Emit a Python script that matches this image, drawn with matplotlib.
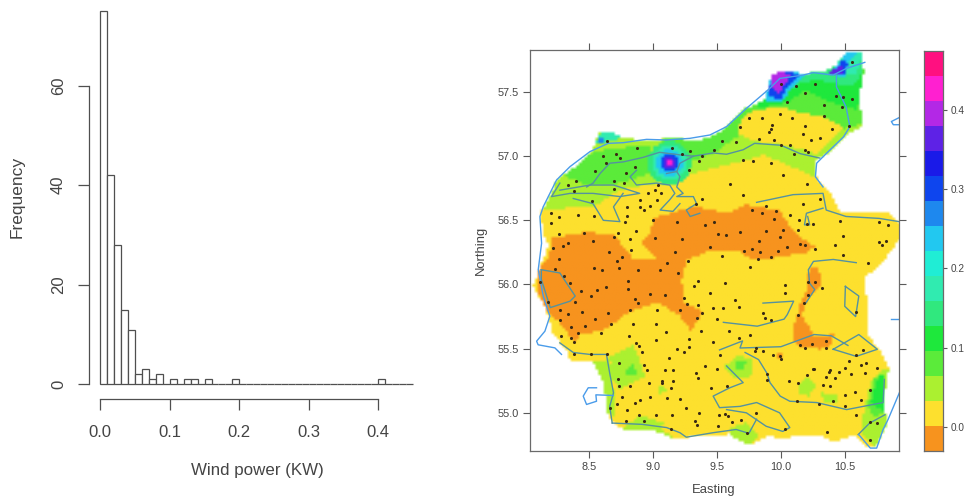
import numpy as np
import matplotlib
matplotlib.use("Agg")
import matplotlib.pyplot as plt
from matplotlib.colors import ListedColormap, BoundaryNorm
from matplotlib.path import Path

plt.rcParams['font.family'] = ['Liberation Sans', 'DejaVu Sans']

# ---------- histogram data ----------
bin_width = 0.01
hist_counts = [75, 42, 28, 15, 11, 2, 3, 1, 2, 0, 1, 0, 1, 1, 0, 1, 0, 0, 0, 1,
               0, 0, 0, 0, 0, 0, 0, 0, 0, 0, 0, 0, 0, 0, 0, 0, 0, 0, 0, 0,
               1, 0, 0, 0, 0]
hist_xticks = [0.0, 0.1, 0.2, 0.3, 0.4]
hist_yticks = [0, 20, 40, 60]

# ---------- colour scale ----------
level_floor = -0.031
level_step = 0.0316
level_colors = ['#F7931E', '#FDE02E', '#ABF030', '#5BEB3A', '#1EE83C', '#30E87E',
                '#30EBB0', '#20EDD5', '#22C8F0', '#1E88EE', '#0E45EE', '#1A1AE8',
                '#5E22E6', '#B328E6', '#FF20D0', '#FF1080']

# ---------- map field: outline and regions (lon, lat), level index ----------
field_outline = [
    (10.516, 57.814), (10.633, 57.80), (10.645, 57.645), (10.62, 57.515), (10.62, 57.36),
    (10.633, 57.23), (10.49, 57.15), (10.36, 57.02), (10.27, 56.97), (10.27, 56.84),
    (10.33, 56.76), (10.38, 56.71), (10.46, 56.555), (10.72, 56.57), (10.85, 56.555),
    (10.925, 56.48), (10.925, 56.35), (10.81, 56.195), (10.645, 56.04), (10.67, 55.86),
    (10.67, 55.62), (10.775, 55.47), (10.84, 55.34), (10.81, 55.155), (10.80, 55.03),
    (10.835, 54.92), (10.745, 54.74), (10.67, 54.73), (10.565, 54.82), (10.41, 54.77),
    (10.305, 54.82), (10.15, 54.83), (10.0, 54.79), (9.9, 54.82), (9.75, 54.745),
    (9.59, 54.83), (9.335, 54.82), (9.16, 54.79), (9.02, 54.855), (8.76, 54.87),
    (8.68, 54.92), (8.63, 55.025), (8.615, 55.21), (8.525, 55.39), (8.35, 55.40),
    (8.32, 55.49), (8.215, 55.61), (8.16, 55.805), (8.055, 55.985), (8.11, 56.115),
    (8.18, 56.32), (8.14, 56.37), (8.115, 56.555), (8.205, 56.71), (8.245, 56.815),
    (8.43, 56.945), (8.53, 57.05), (8.57, 57.18), (8.67, 57.19), (8.76, 57.14),
    (8.995, 57.11), (9.14, 57.15), (9.34, 57.11), (9.52, 57.18), (9.70, 57.36),
    (9.875, 57.44), (9.92, 57.63), (10.02, 57.66), (10.19, 57.64), (10.37, 57.67),
    (10.42, 57.70), (10.47, 57.76)]

north_light = [(8.09, 56.58), (8.53, 56.605), (8.74, 56.735), (9.03, 56.79), (9.18, 56.815),
               (9.315, 56.865), (9.68, 56.955), (9.86, 57.01), (10.07, 56.92), (10.265, 56.83),
               (10.51, 56.945), (10.825, 57.255), (10.825, 57.88), (8.43, 57.88), (7.9, 56.945)]
north_green_west = [(8.53, 57.035), (8.95, 57.085), (9.105, 56.89), (8.895, 56.84),
                    (8.66, 56.765), (8.505, 56.765), (8.295, 56.84)]
north_green_east = [(9.18, 56.92), (9.47, 57.02), (9.655, 57.15), (9.73, 57.335), (9.99, 57.385),
                    (10.125, 57.345), (10.355, 57.295), (10.49, 57.215), (10.65, 57.255),
                    (10.65, 57.83), (9.86, 57.72), (9.68, 57.385), (9.47, 57.18), (9.05, 57.125)]
north_yellow = [(9.73, 57.335), (9.835, 57.36), (9.99, 57.385), (10.125, 57.345), (10.355, 57.295),
                (10.49, 57.215), (10.41, 57.15), (10.28, 57.01), (10.07, 57.075), (9.89, 57.10),
                (9.76, 57.125), (9.655, 57.18), (9.655, 57.23)]
north_bright = [(9.82, 57.37), (10.07, 57.425), (10.175, 57.515), (10.36, 57.425), (10.59, 57.36),
                (10.63, 57.515), (10.65, 57.83), (9.86, 57.72)]
north_spring = [(9.885, 57.45), (10.04, 57.49), (10.15, 57.57), (10.28, 57.59), (10.54, 57.54),
                (10.62, 57.62), (10.65, 57.83), (9.89, 57.72)]
skaw_aqua = [(10.41, 57.645), (10.59, 57.645), (10.65, 57.83), (10.49, 57.83)]
nw_aqua = [(8.545, 57.085), (8.595, 57.19), (8.69, 57.19), (8.755, 57.14), (8.69, 57.125)]
nw_blue = [(8.555, 57.10), (8.58, 57.155), (8.62, 57.145), (8.595, 57.10)]
hanst_cyan = [(9.875, 57.43), (10.0, 57.42), (10.09, 57.54), (10.2, 57.64), (9.92, 57.67)]
hanst_blue = [(9.90, 57.47), (9.99, 57.44), (10.06, 57.55), (10.16, 57.64), (9.93, 57.66)]
hanst_purple = [(9.92, 57.53), (9.985, 57.49), (10.07, 57.63), (10.0, 57.66), (9.93, 57.63)]
skaw_cyan = [(10.37, 57.645), (10.49, 57.61), (10.525, 57.725), (10.59, 57.80), (10.515, 57.815),
             (10.45, 57.725)]
skaw_blue = [(10.46, 57.63), (10.50, 57.63), (10.52, 57.73), (10.47, 57.74)]
skaw_indigo = [(10.375, 57.645), (10.47, 57.625), (10.49, 57.71), (10.44, 57.70)]
orange_west = [(8.205, 56.36), (8.48, 56.405), (8.69, 56.385), (8.765, 56.295), (8.84, 56.195),
               (9.26, 56.195), (9.22, 56.04), (9.235, 55.86), (9.39, 55.78), (9.29, 55.64),
               (9.21, 55.75), (9.03, 55.86), (8.82, 55.79), (8.61, 55.64), (8.43, 55.61),
               (8.375, 55.545), (8.27, 55.70), (8.14, 55.805), (8.09, 55.96), (8.10, 56.115),
               (8.18, 56.195)]
orange_centre = [(8.975, 56.40), (8.91, 56.32), (9.03, 56.19), (9.26, 56.19), (9.42, 56.25),
                 (9.68, 56.25), (9.77, 56.19), (9.86, 56.19), (9.99, 56.215), (10.20, 56.25),
                 (10.265, 56.295), (10.15, 56.36), (10.07, 56.45), (9.99, 56.57), (9.73, 56.62),
                 (9.575, 56.555), (9.315, 56.605), (9.0, 56.515)]
orange_east = [(10.215, 56.115), (10.29, 56.14), (10.315, 55.985), (10.2, 55.88), (10.16, 55.75),
               (10.215, 55.675), (10.265, 55.585), (10.41, 55.61), (10.385, 55.52), (10.305, 55.495),
               (10.15, 55.505), (10.085, 55.57), (10.11, 55.725), (10.16, 55.88), (10.2, 55.96)]
orange_spot = [(9.975, 55.43), (10.015, 55.43), (10.015, 55.46), (9.975, 55.46)]
sw_patch = [(8.66, 55.44), (8.845, 55.53), (8.935, 55.285), (8.74, 55.18), (8.675, 55.26)]
sw_patch_core = [(8.79, 55.34), (8.845, 55.39), (8.87, 55.285), (8.79, 55.285)]
w_coast_patch = [(8.505, 55.39), (8.66, 55.415), (8.69, 55.155), (8.69, 54.975), (8.585, 55.025),
                 (8.585, 55.21)]
south_patch = [(8.74, 54.87), (8.9, 54.975), (9.08, 54.92), (9.05, 54.87), (9.185, 54.79),
               (8.9, 54.845)]
south_patch_two = [(9.59, 54.87), (9.72, 54.92), (9.82, 54.82), (9.75, 54.745), (9.59, 54.82)]
central_patch = [(9.55, 55.36), (9.66, 55.44), (9.775, 55.415), (9.775, 55.285), (9.63, 55.26)]
central_core = [(9.65, 55.39), (9.72, 55.39), (9.71, 55.345), (9.65, 55.345)]
east_patch = [(10.125, 55.21), (10.2, 55.27), (10.28, 55.21), (10.215, 55.13), (10.14, 55.145)]
small_patch = [(9.03, 55.21), (9.09, 55.20), (9.10, 55.155), (9.05, 55.15)]
east_patch_two = [(10.31, 55.155), (10.44, 55.13), (10.44, 55.08), (10.335, 55.08)]
se_light = [(10.62, 54.845), (10.65, 55.05), (10.7, 55.235), (10.8, 55.34), (10.84, 55.34),
            (10.85, 54.92), (10.74, 54.72)]
se_green = [(10.675, 55.05), (10.725, 55.26), (10.81, 55.31), (10.81, 55.0), (10.725, 54.97)]
se_bright = [(10.70, 55.08), (10.76, 55.29), (10.81, 55.29), (10.81, 55.01), (10.735, 55.05)]

region_layers = [
    (2, north_light), (3, north_green_west), (3, north_green_east), (1, north_yellow),
    (4, north_bright), (5, north_spring), (6, skaw_aqua), (6, nw_aqua), (9, nw_blue),
    (8, hanst_cyan), (10, hanst_blue), (13, hanst_purple), (8, skaw_cyan), (10, skaw_blue),
    (12, skaw_indigo),
    (0, orange_west), (0, orange_centre), (0, orange_east), (0, orange_spot),
    (2, sw_patch), (3, sw_patch_core), (2, w_coast_patch), (2, south_patch), (2, south_patch_two),
    (2, central_patch), (3, central_core), (2, east_patch), (2, small_patch), (2, east_patch_two),
    (2, se_light), (3, se_green), (4, se_bright),
]
# concentric hot spot near 9.12E, 56.95N: (level index, radius in degrees)
hotspot_centre = (9.125, 56.945)
hotspot_rings = [(5, 0.17), (6, 0.135), (8, 0.104), (10, 0.073), (12, 0.047), (14, 0.02)]

# ---------- monitoring sites ----------
site_lon = [10.56, 10.27, 10.12, 10.0, 10.19, 10.43, 10.49, 10.56, 10.05, 10.34, 10.48, 9.99, 9.75, 9.85, 10.09,
            10.34, 9.68, 9.93, 9.925, 9.91, 10.19, 10.53, 10.40, 10.17, 9.825, 9.95, 10.235, 10.31, 9.54, 9.65,
            10.0, 10.07, 10.19, 10.21, 10.1, 8.64, 8.875, 9.15, 9.48, 9.23, 9.29, 9.385, 9.36, 9.70, 9.78,
            9.92, 9.28, 10.02, 8.605, 8.71, 8.74, 8.63, 8.86, 8.545, 8.785, 8.395, 8.69, 8.77, 8.335, 9.04,
            9.6, 10.205, 8.69, 8.38, 9.015, 8.96, 9.065, 9.70, 8.525, 8.895, 9.03, 9.385, 10.31, 8.795, 8.90,
            8.975, 8.93, 9.335, 9.88, 10.17, 8.2, 8.265, 8.41, 8.535, 8.795, 9.775, 9.85, 9.965, 10.07, 8.2,
            8.78, 9.0, 9.19, 9.41, 9.48, 9.95, 10.14, 10.205, 10.25, 10.465, 10.77, 10.84, 8.26, 8.46, 8.725,
            8.865, 10.135, 9.68, 9.51, 9.57, 9.88, 10.02, 8.695, 8.53, 9.015, 9.23, 9.83, 9.99, 8.82, 10.49,
            10.765, 10.82, 10.79, 8.335, 8.295, 8.22, 10.15, 10.19, 10.42, 10.27, 9.445, 10.045, 9.775, 9.71, 9.835,
            9.975, 8.655, 8.83, 9.17, 8.755, 9.54, 9.92, 10.49, 9.82, 8.26, 10.68,
            8.23, 8.535, 8.60, 8.735, 8.885, 9.05, 9.11, 9.195, 9.275, 8.715, 9.76, 8.30, 8.115, 8.35, 8.80,
            8.80, 8.63, 8.56, 8.51, 8.435, 9.355, 9.32, 9.56, 10.035, 10.035, 10.215, 10.265, 10.325, 10.21, 9.445,
            8.975, 9.09, 9.245, 8.86, 8.88, 9.64, 8.18, 8.385, 10.18, 9.265, 9.355, 9.47, 9.55, 9.67, 8.27,
            8.82, 9.03, 9.21, 8.335, 8.44, 8.65, 9.38, 9.86, 10.135, 10.585, 9.875, 9.92, 9.345, 9.50, 8.545,
            8.27, 8.845, 9.02, 8.67, 8.355, 8.465, 9.375, 9.595, 9.10, 8.415, 8.59, 8.81, 9.76, 8.28, 8.355,
            8.38, 9.02, 9.28, 9.67, 9.47, 8.865, 8.89, 10.355, 10.24, 10.15, 10.19, 10.35, 9.19, 9.28, 9.24,
            8.91, 8.38, 8.51, 8.64, 9.525, 9.805, 9.80, 9.86, 9.94, 9.99, 10.0, 10.645, 10.59, 9.125, 8.73,
            10.53, 10.67, 10.63, 8.93, 9.41, 10.50, 10.75, 10.26, 10.255, 10.455, 10.385, 10.375, 8.955, 9.09, 9.155,
            9.50, 9.335, 9.35, 10.205, 10.55, 10.655, 10.355, 10.425, 9.89, 9.89, 8.725, 9.155, 9.07, 9.07, 8.97,
            10.065, 10.135, 8.73, 8.82, 10.33, 10.385, 9.14, 9.455, 9.58, 10.70, 10.58, 8.76, 8.975, 9.11, 9.21,
            10.50, 10.41, 10.625, 8.895, 8.855, 8.715, 10.13, 10.30, 8.665, 9.255, 10.50, 8.795, 9.36, 8.89, 9.02,
            9.15, 9.515, 9.565, 9.585, 9.805, 10.585, 9.33, 8.785, 8.93, 9.345, 9.69, 9.615, 9.505, 10.695, 10.755,
            9.14, 10.03, 10.36, 9.735, 10.695]
site_lat = [57.73, 57.56, 57.55, 57.56, 57.49, 57.47, 57.46, 57.445, 57.425, 57.40, 57.38, 57.33, 57.30, 57.30, 57.295,
            57.31, 57.23, 57.24, 57.215, 57.185, 57.235, 57.235, 57.21, 57.17, 57.135, 57.125, 57.125, 57.14, 57.12, 57.11,
            57.09, 57.085, 57.05, 57.035, 57.02, 57.115, 57.06, 57.06, 57.05, 57.015, 57.04, 57.0, 56.96, 56.97, 56.965,
            56.945, 56.89, 56.85, 57.0, 57.02, 56.985, 56.945, 56.915, 56.885, 56.865, 56.81, 56.81, 56.79, 56.775, 56.775,
            56.78, 56.78, 56.745, 56.725, 56.74, 56.71, 56.71, 56.70, 56.65, 56.66, 56.655, 56.665, 56.665, 56.605, 56.60,
            56.615, 56.58, 56.63, 56.61, 56.625, 56.555, 56.525, 56.545, 56.53, 56.53, 56.58, 56.56, 56.57, 56.54, 56.48,
            56.485, 56.5, 56.49, 56.465, 56.485, 56.51, 56.5, 56.47, 56.47, 56.495, 56.485, 56.465, 56.39, 56.40, 56.405,
            56.42, 56.425, 56.41, 56.39, 56.385, 56.42, 56.425, 56.37, 56.34, 56.365, 56.355, 56.34, 56.37, 56.355, 56.375,
            56.33, 56.34, 56.305, 56.32, 56.30, 56.285, 56.315, 56.305, 56.31, 56.275, 56.295, 56.29, 56.275, 56.26, 56.25,
            56.26, 56.255, 56.27, 56.25, 56.215, 56.225, 56.215, 56.23, 56.20, 56.195, 56.17,
            56.12, 56.13, 56.11, 56.125, 56.11, 56.11, 56.165, 56.09, 56.18, 56.185, 56.14, 56.07, 56.02, 56.01, 56.025,
            55.965, 55.98, 55.955, 55.91, 55.95, 56.025, 55.99, 56.01, 55.995, 55.935, 56.02, 56.02, 55.97, 55.915, 55.93,
            55.925, 55.92, 55.895, 55.89, 55.855, 55.88, 55.865, 55.865, 55.855, 55.845, 55.84, 55.82, 55.815, 55.825, 55.805,
            55.80, 55.80, 55.80, 55.77, 55.785, 55.78, 55.78, 55.775, 55.76, 55.785, 55.735, 55.725, 55.735, 55.73, 55.73,
            55.72, 55.695, 55.695, 55.69, 55.67, 55.675, 55.64, 55.64, 55.63, 55.625, 55.625, 55.60, 55.61, 55.60, 55.585,
            55.555, 55.57, 55.575, 55.58, 55.55, 55.545, 55.52, 55.56, 55.54, 55.525, 55.505, 55.505, 55.50, 55.51, 55.47,
            55.475, 55.46, 55.455, 55.455, 55.45, 55.505, 55.48, 55.48, 55.45, 55.445, 55.42, 55.49, 55.45, 55.43, 55.39,
            55.40, 55.39, 55.37, 55.375, 55.365, 55.35, 55.35, 55.345, 55.34, 55.32, 55.335, 55.315, 55.335, 55.335, 55.335,
            55.345, 55.31, 55.275, 55.295, 55.30, 55.31, 55.28, 55.275, 55.30, 55.255, 55.265, 55.25, 55.245, 55.235, 55.235,
            55.245, 55.23, 55.21, 55.21, 55.215, 55.21, 55.195, 55.19, 55.205, 55.18, 55.165, 55.125, 55.125, 55.115, 55.105,
            55.135, 55.095, 55.10, 55.10, 55.075, 55.065, 55.095, 55.07, 55.04, 55.035, 55.05, 55.02, 54.995, 54.98, 54.98,
            54.98, 54.985, 54.99, 54.975, 55.0, 54.98, 54.94, 54.94, 54.94, 54.905, 54.945, 54.93, 54.895, 54.93, 54.92,
            54.875, 54.875, 54.85, 54.84, 54.79]

# ---------- coastlines and inland water ----------
coast_main = [(10.657, 57.731), (10.513, 57.684), (10.409, 57.632), (10.253, 57.651), (10.175, 57.632),
              (9.992, 57.606), (9.914, 57.529), (9.731, 57.373), (9.575, 57.23), (9.444, 57.165),
              (9.288, 57.139), (9.105, 57.126), (8.949, 57.131), (8.766, 57.105), (8.649, 57.1),
              (8.505, 57.035), (8.349, 56.918), (8.244, 56.814), (8.14, 56.606), (8.114, 56.529),
              (8.127, 56.321), (8.101, 56.117), (8.14, 55.909), (8.192, 55.753), (8.153, 55.636),
              (8.088, 55.558), (8.10, 55.53), (8.231, 55.506), (8.283, 55.455)]
coast_ne = [(10.435, 57.63), (10.435, 57.54), (10.51, 57.385), (10.54, 57.23), (10.49, 57.15),
            (10.355, 57.02), (10.28, 56.945), (10.27, 56.84), (10.33, 56.76)]
coast_island = [(8.557, 55.195), (8.492, 55.195), (8.453, 55.13), (8.479, 55.065), (8.557, 55.09),
                (8.552, 55.14), (8.688, 55.135)]
coast_se = [(10.61, 54.83), (10.70, 54.725), (10.75, 54.725), (10.80, 54.87), (10.84, 54.95),
            (10.927, 55.155)]
coast_islet_n = [(10.925, 57.30), (10.865, 57.27), (10.88, 57.245), (10.925, 57.245)]
coast_islet_e = [(10.865, 55.73), (10.925, 55.73)]
coast_lines = [coast_main, coast_ne, coast_island, coast_se, coast_islet_n, coast_islet_e]

fjord_main = [(10.305, 56.985), (10.15, 57.02), (10.0, 57.085), (9.795, 57.10), (9.705, 57.05), (9.575, 57.015),
              (9.47, 57.025), (9.315, 57.0), (9.21, 56.945), (9.185, 56.88), (9.105, 56.865)]
fjord_west = [(9.315, 57.0), (9.21, 57.01), (9.05, 57.03), (8.92, 56.99), (8.765, 56.955), (8.66, 56.945),
              (8.585, 56.865), (8.53, 56.79), (8.48, 56.76)]
fjord_south = [(9.185, 56.88), (9.21, 56.84), (9.185, 56.76), (9.235, 56.71), (9.185, 56.685), (9.315, 56.685),
               (9.34, 56.63), (9.26, 56.58), (9.29, 56.53), (9.365, 56.555)]
fjord_mid = [(8.87, 56.89), (8.82, 56.84), (8.87, 56.775), (9.025, 56.79), (9.13, 56.775), (9.17, 56.71),
             (9.13, 56.66), (9.055, 56.58), (9.155, 56.57), (9.21, 56.63)]
fjord_loop = [(8.27, 56.735), (8.505, 56.775), (8.69, 56.775), (8.895, 56.71), (8.74, 56.685), (8.53, 56.71),
              (8.35, 56.71), (8.205, 56.685), (8.27, 56.79)]
fjord_low = [(8.375, 56.67), (8.53, 56.63), (8.61, 56.50), (8.74, 56.49), (8.69, 56.605), (8.765, 56.71)]
mariager = [(9.81, 56.64), (10.095, 56.70), (10.33, 56.71), (10.355, 56.58), (10.51, 56.53), (10.77, 56.515),
            (10.925, 56.49)]
mariager_arm = [(10.33, 56.595), (10.2, 56.555), (10.185, 56.465), (10.225, 56.465), (10.21, 56.53)]
ringkobing = [(8.125, 56.115), (8.27, 56.09), (8.39, 55.91), (8.35, 55.87), (8.195, 55.82), (8.125, 56.04),
              (8.125, 56.115)]
vejle = [(9.86, 55.855), (10.1, 55.87), (10.05, 55.765), (10.025, 55.73), (9.815, 55.675), (9.55, 55.705)]
gudena = [(10.195, 55.855), (10.265, 55.96), (10.225, 56.01), (10.215, 56.115), (10.255, 56.18), (10.41, 56.195),
          (10.59, 56.17)]
east_bay = [(10.505, 55.985), (10.61, 55.91), (10.585, 55.75), (10.50, 55.83), (10.505, 55.985)]
kolding = [(9.52, 55.49), (9.70, 55.56), (9.68, 55.505), (10.0, 55.515), (10.26, 55.61), (10.395, 55.60),
           (10.525, 55.525)]
east_loop = [(10.41, 55.495), (10.61, 55.61), (10.755, 55.495), (10.59, 55.44), (10.41, 55.495)]
south_river = [(9.72, 55.47), (9.825, 55.415), (9.89, 55.31), (9.915, 55.235), (9.995, 55.13), (10.07, 55.09),
               (10.28, 55.08), (10.515, 55.025), (10.80, 55.08), (10.81, 55.26)]
south_loop = [(9.575, 55.365), (9.705, 55.235), (9.6, 55.195), (9.47, 55.13), (9.52, 55.04), (9.68, 55.05),
              (9.81, 55.08), (9.99, 55.0), (10.07, 54.885), (10.015, 54.855), (9.885, 54.895), (9.73, 55.0),
              (9.575, 55.025)]
south_line = [(8.68, 54.92), (8.915, 54.91), (9.105, 54.885), (9.21, 54.845), (9.26, 54.81), (9.47, 54.845),
              (9.65, 54.87), (9.75, 54.84), (9.81, 54.95)]
west_line = [(8.27, 55.545), (8.375, 55.47), (8.505, 55.455), (8.635, 55.455), (8.66, 55.31), (8.69, 55.155),
             (8.66, 55.05), (8.68, 54.92)]
se_line = [(10.605, 54.83), (10.695, 54.92), (10.815, 54.985)]
water_lines = [fjord_main, fjord_west, fjord_south, fjord_mid, fjord_loop, fjord_low, mariager, mariager_arm,
               ringkobing, vejle, gudena, east_bay, kolding, east_loop, south_river, south_loop, south_line,
               west_line, se_line]

map_xticks = [8.5, 9.0, 9.5, 10.0, 10.5]
map_yticks = [55.0, 55.5, 56.0, 56.5, 57.0, 57.5]
bar_ticks = [0.0, 0.1, 0.2, 0.3, 0.4]

# ---------- figure ----------
W, H = 968, 497
fig = plt.figure(figsize=(W / 100, H / 100), dpi=100)


def px_axes(left, top, right, bottom):
    return fig.add_axes([left / W, 1 - bottom / H, (right - left) / W, (bottom - top) / H])


INK = '#4f4f4f'
TXT = '#444444'

# --- histogram ---
ax = px_axes(88.7, 4, 420, 399)
edges = np.arange(len(hist_counts)) * bin_width
ax.bar(edges, hist_counts, width=bin_width, align='edge', facecolor='white', edgecolor=INK, linewidth=0.9)
ax.set_xlim(-0.0167, 0.46)
ax.set_ylim(-2.95, 76.4)
for s in ('top', 'right'):
    ax.spines[s].set_visible(False)
ax.spines['left'].set_bounds(0, 60)
ax.spines['bottom'].set_bounds(0, 0.4)
for s in ('left', 'bottom'):
    ax.spines[s].set_color(INK)
    ax.spines[s].set_linewidth(0.9)
ax.set_xticks(hist_xticks)
ax.set_xticklabels([f'{v:.1f}' for v in hist_xticks])
ax.set_yticks(hist_yticks)
ax.set_yticklabels([str(v) for v in hist_yticks], rotation=90, va='center')
ax.tick_params(axis='x', length=7.9, width=0.9, color=INK, labelcolor=TXT, labelsize=12, pad=10.5)
ax.tick_params(axis='y', length=7.9, width=0.9, color=INK, labelcolor=TXT, labelsize=12, pad=8.5)
fig.text(257 / W, 1 - 471 / H, 'Wind power (KW)', ha='center', va='center', fontsize=12.2, color=TXT)
fig.text(17 / W, 1 - 197 / H, 'Frequency', ha='center', va='center', rotation=90, fontsize=12.5, color=TXT)

# --- map ---
cmap = ListedColormap(level_colors)
levels = level_floor + level_step * np.arange(len(level_colors) + 1)
norm = BoundaryNorm(levels, cmap.N)
mids = 0.5 * (levels[:-1] + levels[1:])

m = px_axes(529.7, 50.3, 899.3, 451.3)
lon_edges = np.arange(8.03, 10.95, 0.0215)
lat_edges = np.arange(54.69, 57.84, 0.0215)
lon_c = 0.5 * (lon_edges[:-1] + lon_edges[1:])
lat_c = 0.5 * (lat_edges[:-1] + lat_edges[1:])
LON, LAT = np.meshgrid(lon_c, lat_c)
pts = np.column_stack([LON.ravel(), LAT.ravel()])
klass = np.full(LON.shape, 1, dtype=int)
for idx, poly in region_layers:
    klass[Path(poly).contains_points(pts).reshape(LON.shape)] = idx
for idx, radius in hotspot_rings:
    inside = np.hypot(LON - hotspot_centre[0], LAT - hotspot_centre[1]) <= radius
    klass[inside] = idx
field = mids[klass].astype(float)
land = Path(field_outline).contains_points(pts).reshape(LON.shape)
rgba = cmap(norm(field))
rgba[~land] = (1, 1, 1, 1)
m.imshow(rgba, origin='lower', aspect='auto', interpolation='bilinear',
         extent=(lon_edges[0], lon_edges[-1], lat_edges[0], lat_edges[-1]))

for line in water_lines:
    xy = np.array(line)
    m.plot(xy[:, 0], xy[:, 1], color='#55929f', lw=1.0, solid_joinstyle='round')
for line in coast_lines:
    xy = np.array(line)
    m.plot(xy[:, 0], xy[:, 1], color='#4a9cea', lw=1.0, solid_joinstyle='round')
m.scatter(site_lon, site_lat, s=5, color='#3a2a14', linewidths=0, zorder=5)

m.set_xlim(8.034, 10.927)
m.set_ylim(54.70, 57.825)
for s in m.spines.values():
    s.set_color('#6a6a6a')
    s.set_linewidth(0.9)
m.set_xticks(map_xticks)
m.set_xticklabels([f'{v:.1f}' for v in map_xticks])
m.set_yticks(map_yticks)
m.set_yticklabels([f'{v:.1f}' for v in map_yticks])
m.tick_params(axis='both', which='both', direction='out', length=4.8, width=0.8, color='#5a5a5a',
              labelcolor=TXT, labelsize=7.8, top=True, right=True, pad=3.2)
fig.text(714 / W, 1 - 490 / H, 'Easting', ha='center', va='center', fontsize=9.4, color=TXT)
fig.text(481 / W, 1 - 250 / H, 'Northing', ha='center', va='center', rotation=90, fontsize=9.4, color=TXT)

# --- colour key ---
c = px_axes(924, 50.7, 943.3, 451.3)
c.pcolormesh([0, 1], levels, mids.reshape(-1, 1), cmap=cmap, norm=norm, shading='flat')
c.set_xlim(0, 1)
c.set_ylim(levels[0], levels[-1])
c.set_xticks([])
c.yaxis.tick_right()
c.set_yticks(bar_ticks)
c.set_yticklabels([f'{v:.1f}' for v in bar_ticks])
c.tick_params(axis='y', direction='out', length=3, width=0.8, color='#5a5a5a', labelcolor=TXT, labelsize=7.2, pad=2.5)
for s in c.spines.values():
    s.set_color('#6a6a6a')
    s.set_linewidth(0.9)

fig.savefig('out.png', dpi=100)
